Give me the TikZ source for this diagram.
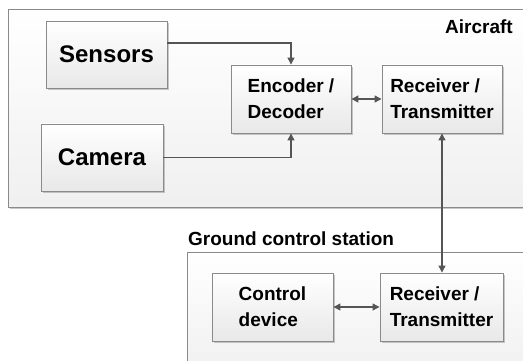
\documentclass[tikz,border=0pt]{standalone}
\usepackage{fontspec}
\setmainfont{Liberation Sans}
\usetikzlibrary{arrows.meta,shadows,calc}
\definecolor{edgegray}{HTML}{8A8A8A}
\definecolor{linegray}{HTML}{555555}
\tikzset{
  blockbox/.style={draw=edgegray, line width=0.9pt, top color=white, bottom color=black!9,
    drop shadow={shadow xshift=2pt, shadow yshift=-2pt, opacity=0.35, fill=black!60},
    align=left, font=\bfseries\fontsize{19}{26}\selectfont, inner sep=0pt},
  bigbox/.style={blockbox, font=\bfseries\fontsize{24}{28}\selectfont},
  container/.style={draw=edgegray, line width=0.9pt, top color=white, bottom color=black!6,
    drop shadow={shadow xshift=2pt, shadow yshift=-2pt, opacity=0.35, fill=black!60}},
  conn/.style={draw=linegray, line width=1.2pt, -{Triangle[length=7pt,width=7pt]}},
  biconn/.style={draw=linegray, line width=1.2pt, {Triangle[length=7pt,width=7pt]}-{Triangle[length=7pt,width=7pt]}},
  lbl/.style={font=\bfseries\fontsize{19}{22}\selectfont, inner sep=0pt}
}
\begin{document}
\begin{tikzpicture}[x=1pt,y=-1pt]
\useasboundingbox (0,0) rectangle (523,361);
\clip (0,0) rectangle (523,361);
\fill[white] (0,0) rectangle (523,361);
% containers
\path[container] (8,9) rectangle (535,207);
\path[container] (187,252) rectangle (535,375);
\node[lbl, anchor=east] (aircraft) at (513,27) {Aircraft};
\node[lbl, anchor=west] (ground) at (188,239) {Ground control station};
% blocks
\node[bigbox, minimum width=121pt, minimum height=67pt] (sensors) at (106.5,54.5) {Sensors};
\node[bigbox, minimum width=122pt, minimum height=67pt] (camera) at (102,157.5) {Camera};
\node[blockbox, minimum width=120pt, minimum height=68pt] (enc) at (291,99) {Encoder /\\Decoder};
\node[blockbox, minimum width=120pt, minimum height=68pt] (rx1) at (442,99) {Receiver /\\Transmitter};
\node[blockbox, minimum width=121pt, minimum height=68pt] (ctrl) at (272.5,307) {Control\\device};
\node[blockbox, minimum width=123pt, minimum height=68pt] (rx2) at (441.5,307) {Receiver /\\Transmitter};
% connectors
\draw[conn] ([yshift=11.5pt]sensors.east) -| (enc.north);
\draw[conn] (camera.east) -| (enc.south);
\draw[biconn] (enc.east) -- (rx1.west);
\draw[biconn] (rx1.south) -- (rx1.south |- rx2.north);
\draw[biconn] (ctrl.east) -- (rx2.west);
\end{tikzpicture}
\end{document}
